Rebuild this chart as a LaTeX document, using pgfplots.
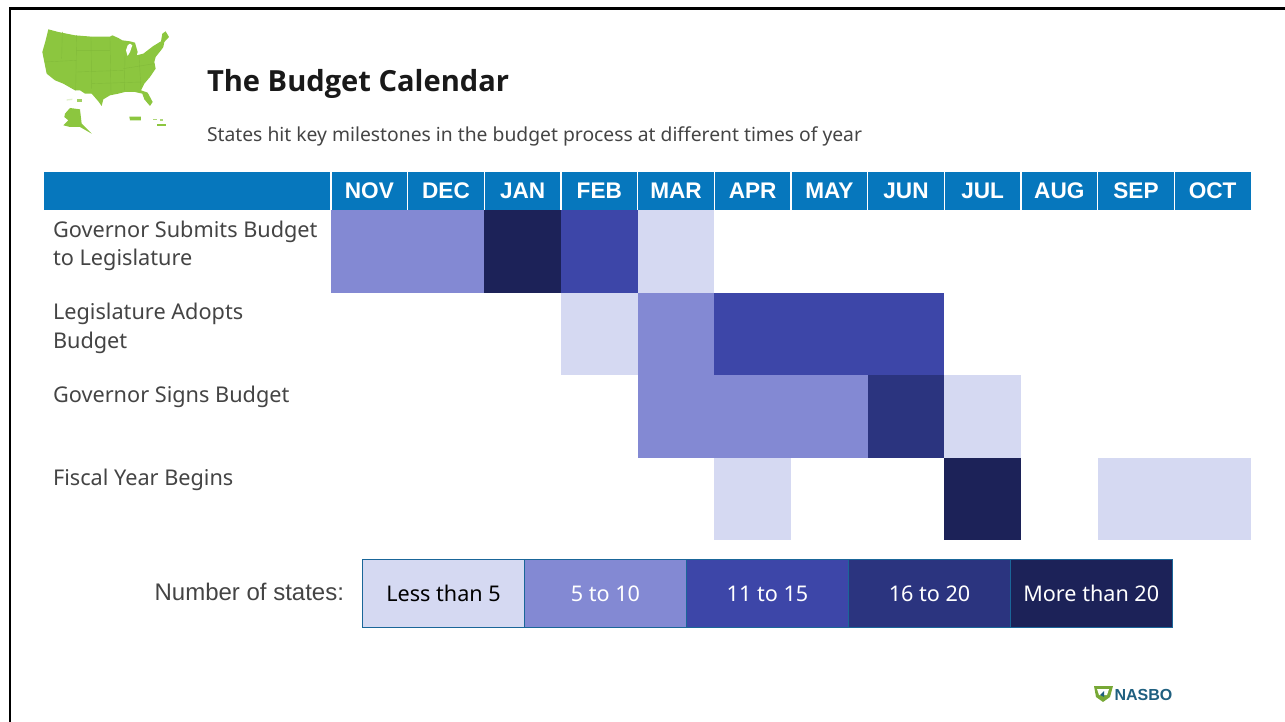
\documentclass[border=0pt]{standalone}
\usepackage{pgfplots}
\pgfplotsset{compat=1.18}
\usepackage{fontspec}
\setmainfont{Noto Sans}
\newfontfamily\arial{Liberation Sans}
\newfontfamily\ttl{Open Sans}
\definecolor{hdr}{HTML}{0677BD}
\definecolor{ca}{HTML}{D5D9F2}
\definecolor{cb}{HTML}{8389D3}
\definecolor{cc}{HTML}{3D46A8}
\definecolor{cd}{HTML}{2B347F}
\definecolor{ce}{HTML}{1C2258}
\definecolor{txt}{HTML}{444444}
\definecolor{grn}{HTML}{8CC63F}
\definecolor{grnd}{HTML}{82BB3A}
\definecolor{lgb}{HTML}{1A6699}
\definecolor{nas}{HTML}{1F5F7F}
\newcommand{\fs}[1]{\fontsize{#1}{#1}\selectfont}
\begin{document}
\begin{tikzpicture}[x=1pt,y=1pt]
\useasboundingbox (0,0) rectangle (1285,721);
\begin{axis}[
  at={(331pt,181pt)},anchor=south west,
  scale only axis,width=920pt,height=330pt,
  xmin=0,xmax=12,ymin=0,ymax=4,y dir=reverse,clip=false,
  axis on top,
  axis line style={draw=none},
  major tick style={draw=none},minor tick style={draw=none},
  ytick=\empty,
  xtick={0.5,1.5,2.5,3.5,4.5,5.5,6.5,7.5,8.5,9.5,10.5,11.5},
  xticklabels={NOV,DEC,JAN,FEB,MAR,APR,MAY,JUN,JUL,AUG,SEP,OCT},
  xticklabel pos=upper,
  xticklabel style={font=\arial\bfseries\fs{22.6},text=white,anchor=base,inner sep=0pt,yshift=12pt},
  xtick align=inside,
]
% header band
\addplot[fill=hdr,draw=none] coordinates {(-3.743,-0.46)(12,-0.46)(12,0)(-3.743,0)} -- cycle;
\addplot[draw=white,line width=1.2pt,forget plot] coordinates {(0,-0.46)(0,0)};
\addplot[draw=white,line width=1.2pt,forget plot] coordinates {(1,-0.46)(1,0)};
\addplot[draw=white,line width=1.2pt,forget plot] coordinates {(2,-0.46)(2,0)};
\addplot[draw=white,line width=1.2pt,forget plot] coordinates {(3,-0.46)(3,0)};
\addplot[draw=white,line width=1.2pt,forget plot] coordinates {(4,-0.46)(4,0)};
\addplot[draw=white,line width=1.2pt,forget plot] coordinates {(5,-0.46)(5,0)};
\addplot[draw=white,line width=1.2pt,forget plot] coordinates {(6,-0.46)(6,0)};
\addplot[draw=white,line width=1.2pt,forget plot] coordinates {(7,-0.46)(7,0)};
\addplot[draw=white,line width=1.2pt,forget plot] coordinates {(8,-0.46)(8,0)};
\addplot[draw=white,line width=1.2pt,forget plot] coordinates {(9,-0.46)(9,0)};
\addplot[draw=white,line width=1.2pt,forget plot] coordinates {(10,-0.46)(10,0)};
\addplot[draw=white,line width=1.2pt,forget plot] coordinates {(11,-0.46)(11,0)};
% Governor submits
\addplot[fill=cb,draw=none] coordinates {(0,0)(2,0)(2,1)(0,1)} -- cycle;
\addplot[fill=ce,draw=none] coordinates {(2,0)(3,0)(3,1)(2,1)} -- cycle;
\addplot[fill=cc,draw=none] coordinates {(3,0)(4,0)(4,1)(3,1)} -- cycle;
\addplot[fill=ca,draw=none] coordinates {(4,0)(5,0)(5,1)(4,1)} -- cycle;
% Legislature adopts
\addplot[fill=ca,draw=none] coordinates {(3,1)(4,1)(4,2)(3,2)} -- cycle;
\addplot[fill=cb,draw=none] coordinates {(4,1)(5,1)(5,2)(4,2)} -- cycle;
\addplot[fill=cc,draw=none] coordinates {(5,1)(8,1)(8,2)(5,2)} -- cycle;
% Governor signs
\addplot[fill=cb,draw=none] coordinates {(4,2)(7,2)(7,3)(4,3)} -- cycle;
\addplot[fill=cd,draw=none] coordinates {(7,2)(8,2)(8,3)(7,3)} -- cycle;
\addplot[fill=ca,draw=none] coordinates {(8,2)(9,2)(9,3)(8,3)} -- cycle;
% Fiscal year begins
\addplot[fill=ca,draw=none] coordinates {(5,3)(6,3)(6,4)(5,4)} -- cycle;
\addplot[fill=ce,draw=none] coordinates {(8,3)(9,3)(9,4)(8,4)} -- cycle;
\addplot[fill=ca,draw=none] coordinates {(10,3)(12,3)(12,4)(10,4)} -- cycle;
\end{axis}
\begin{scope}[yshift=721pt,x=1pt,y=-1pt,every node/.style={inner sep=0pt,outer sep=0pt}]
% frame
\draw[black,line width=2.4pt] (10,722) -- (10,8.5) -- (1286,8.5);
% map
\begin{scope}[shift={(35,22)},x=0.3333pt,y=-0.3333pt]
\fill[grn,line join=round] (40,22)--(70,30)--(120,40)--(170,44)--(225,44)--(232,40)--(250,48)--(262,55)--(285,58)--(300,62)--(308,90)--(305,100)--(325,95)--(355,72)--(378,58)--(382,35)--(392,28)--(402,45)--(388,60)--(385,75)--(378,85)--(362,105)--(358,120)--(362,140)--(345,165)--(328,185)--(318,205)--(338,212)--(353,240)--(345,252)--(328,232)--(322,215)--(300,210)--(270,210)--(250,215)--(225,220)--(205,232)--(200,252)--(190,238)--(170,215)--(150,215)--(135,205)--(120,205)--(85,185)--(60,175)--(35,155)--(28,120)--(22,90)--(32,55)--cycle;
\fill[white] (285,65)--(292,70)--(285,90)--(278,102)--(273,85)--(278,70)--cycle;
\draw[grnd,line width=0.4pt] (82,30)--(80,110) (125,40)--(122,205) (168,44)--(170,200) (225,48)--(228,215) (270,100)--(268,205) (312,100)--(318,200)
 (125,85)--(225,85) (30,120)--(125,115) (125,150)--(265,145) (265,140)--(358,125) (170,185)--(320,180);
\fill[grn] (90,275)--(105,258)--(135,262)--(140,305)--(170,335)--(135,315)--(105,315)--(85,310)--(100,295)--(88,285)--cycle;
\fill[grn] (283,284)--(318,284)--(318,295)--(285,295)--cycle;
\fill[grn] (365,305)--(392,305)--(392,312)--(365,312)--cycle;
\fill[grn!70] (355,290)--(365,290)--(365,294)--(355,294)--cycle;
\fill[grn!70] (375,292)--(385,292)--(385,296)--(375,296)--cycle;
\fill[grn!80] (125,232)--(140,232)--(140,240)--(125,240)--cycle;
\fill[grn!25] (95,232)--(112,230)--(112,234)--(95,236)--cycle;
\end{scope}
% titles
\node[anchor=base west,text=black!90] at (207,92) {\ttl\fs{29.1}\bfseries The Budget Calendar};
\node[anchor=base west,text=txt] at (207,142) {\fs{19.3}States hit key milestones in the budget process at different times of year};
% row labels
\node[anchor=base west,text=txt] at (53,238) {\fs{21.7}Governor Submits Budget};
\node[anchor=base west,text=txt] at (53,266) {\fs{21.7}to Legislature};
\node[anchor=base west,text=txt] at (53,320) {\fs{21.7}Legislature Adopts};
\node[anchor=base west,text=txt] at (53,349) {\fs{21.7}Budget};
\node[anchor=base west,text=txt] at (53,403) {\fs{21.7}Governor Signs Budget};
\node[anchor=base west,text=txt] at (53,485) {\fs{21.7}Fiscal Year Begins};
% legend
\node[anchor=base east,text=txt] at (344,600) {\arial\fs{24}Number of states:};
\foreach \xa/\xb/\c/\t/\l in {362.5/524.5/ca/black/Less than 5,524.5/686.5/cb/white/5 to 10,686.5/848.5/cc/white/11 to 15,848.5/1010.5/cd/white/16 to 20,1010.5/1172/ce/white/More than 20}{
  \filldraw[fill=\c,draw=lgb,line width=1pt] (\xa,559.5) rectangle (\xb,627);
  \node[anchor=base,text=\t] at ({(\xa+\xb)/2},601) {\fs{21.6}\l};
}
% logo
\fill[grn!85!black] (1094,686)--(1113,686)--(1110,697)--(1103,702)--(1096,697)--cycle;
\fill[white] (1097,689)--(1109,689)--(1107,695)--(1099,695)--cycle;
\fill[nas] (1100,695)--(1104,691)--(1104,697)--cycle;
\node[anchor=base west,text=nas] at (1114.5,700) {\arial\fs{16}\bfseries NASBO};
\end{scope}
\end{tikzpicture}
\end{document}
